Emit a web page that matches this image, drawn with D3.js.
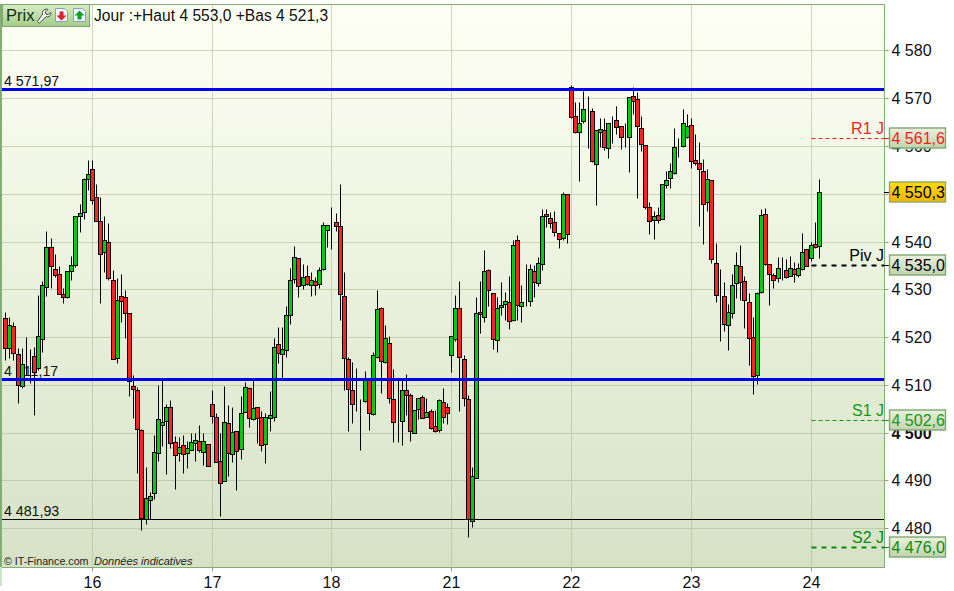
<!DOCTYPE html>
<html><head><meta charset="utf-8">
<script src="https://cdn.jsdelivr.net/npm/d3@7"></script>
<style>
html,body{margin:0;padding:0;background:#fff}
svg{display:block;font-family:"Liberation Sans",Arial,sans-serif}
</style></head><body><svg id="c" width="954" height="591"></svg>
<script>
const highs=[
4525.3,4524.2,4523.2,4517.7,4517.7,4520.0,4517.5,4517.9,4528.8,4531.8,
4542.2,4540.8,4537.4,4534.9,4530.3,4533.8,4537.0,4545.4,4547.9,4553.3,
4557.1,4557.1,4552.1,4549.3,4545.4,4543.9,4534.1,4532.4,4533.2,4529.9,
4525.1,4512.1,4509.6,4500.8,4492.8,4487.6,4499.5,4510.0,4511.0,4506.0,
4506.9,4499.3,4499.1,4499.5,4498.3,4499.9,4499.9,4501.6,4499.9,4497.6,
4508.9,4504.1,4499.9,4509.8,4505.8,4505.4,4500.4,4507.7,4510.6,4509.6,
4511.0,4505.4,4504.5,4504.1,4508.7,4519.8,4522.1,4522.1,4526.5,4534.5,
4539.1,4536.6,4535.3,4535.1,4533.6,4532.6,4534.7,4544.1,4543.5,4547.2,
4546.0,4552.1,4533.6,4515.9,4514.8,4513.5,4507.1,4512.9,4511.2,4516.9,
4529.9,4526.3,4522.5,4520.2,4513.3,4511.0,4511.0,4512.3,4508.3,4504.8,
4507.3,4507.9,4507.3,4505.0,4504.8,4507.1,4509.4,4506.2,4520.2,4528.8,
4531.8,4516.3,4507.9,4492.8,4528.4,4531.8,4538.2,4534.3,4529.2,4528.4,
4531.5,4529.5,4532.8,4540.3,4541.4,4530.9,4535.3,4535.3,4535.1,4536.8,
4546.8,4546.8,4546.2,4546.4,4541.8,4550.4,4550.0,4572.8,4569.2,4569.2,
4571.5,4570.5,4568.0,4563.3,4565.9,4565.9,4564.8,4566.3,4568.4,4564.2,
4564.8,4570.3,4572.3,4571.3,4566.3,4560.2,4548.3,4546.4,4547.2,4552.1,
4554.8,4556.4,4563.8,4561.7,4567.7,4566.7,4565.9,4562.5,4560.8,4557.3,
4555.2,4552.9,4539.7,4534.3,4531.5,4526.9,4533.2,4537.8,4539.3,4532.8,
4529.2,4524.2,4529.5,4546.8,4547.0,4535.3,4533.4,4536.8,4536.8,4536.4,
4537.0,4535.7,4535.5,4541.8,4538.4,4539.9,4544.1,4553.0];
const lows=[
4515.2,4515.6,4515.2,4506.2,4509.4,4512.1,4510.4,4503.7,4513.1,4516.8,
4528.6,4530.3,4532.6,4529.0,4527.1,4528.2,4532.0,4534.7,4542.0,4544.7,
4550.8,4547.9,4544.3,4527.1,4533.6,4532.0,4515.4,4514.6,4523.2,4519.8,
4507.7,4503.1,4491.6,4479.6,4480.9,4482.0,4486.1,4494.1,4497.2,4491.4,
4496.8,4488.2,4494.1,4491.6,4492.6,4496.4,4494.1,4496.0,4493.2,4493.0,
4502.0,4493.9,4482.6,4489.9,4491.0,4493.9,4488.0,4494.5,4504.3,4501.2,
4502.7,4497.9,4496.2,4493.7,4500.4,4502.5,4514.6,4511.5,4515.9,4522.8,
4531.3,4528.4,4530.1,4530.9,4528.6,4528.8,4530.3,4534.1,4538.9,4538.4,
4542.2,4523.6,4508.9,4500.4,4502.0,4504.5,4496.4,4506.4,4500.6,4503.7,
4515.6,4508.3,4514.6,4506.2,4498.1,4498.1,4497.4,4503.7,4498.3,4499.9,
4502.9,4503.1,4503.3,4500.8,4500.2,4500.2,4502.0,4501.8,4512.7,4519.2,
4504.5,4505.6,4478.2,4480.3,4490.5,4520.9,4523.2,4526.5,4517.5,4516.9,
4524.6,4523.6,4521.7,4523.4,4523.6,4523.2,4526.5,4526.5,4528.4,4530.7,
4534.1,4543.1,4542.8,4541.2,4538.7,4540.3,4539.7,4565.9,4562.7,4552.7,
4564.8,4559.6,4556.7,4547.7,4559.8,4559.2,4557.5,4560.6,4562.5,4559.4,
4559.8,4554.6,4566.7,4549.1,4559.0,4546.8,4541.6,4540.5,4543.9,4544.7,
4551.2,4551.2,4554.1,4557.7,4559.8,4561.7,4555.4,4556.0,4543.3,4539.5,
4546.4,4535.5,4527.4,4519.2,4521.3,4517.3,4524.0,4528.2,4527.8,4521.9,
4514.2,4508.1,4510.2,4529.2,4535.1,4526.7,4530.3,4531.5,4532.0,4532.4,
4532.8,4531.5,4532.6,4534.1,4534.9,4535.9,4538.7,4536.6];
const opens=[
4523.9,4517.7,4522.3,4516.5,4509.8,4517.0,4516.3,4516.1,4513.5,4519.6,
4530.5,4538.9,4534.3,4533.2,4529.0,4528.4,4533.8,4535.1,4545.4,4546.2,
4553.1,4555.2,4549.3,4544.3,4537.8,4539.9,4532.0,4515.6,4528.6,4528.4,
4525.1,4509.8,4508.9,4500.6,4482.0,4485.9,4487.4,4495.8,4501.6,4502.5,
4505.4,4498.1,4495.8,4497.4,4495.8,4496.4,4497.9,4498.3,4496.0,4497.6,
4506.0,4503.3,4494.1,4489.9,4502.0,4495.5,4500.4,4496.6,4504.3,4509.4,
4502.9,4505.4,4503.3,4497.6,4503.1,4503.3,4518.6,4516.5,4517.3,4524.6,
4532.2,4536.6,4530.9,4532.8,4530.9,4531.8,4531.1,4534.3,4542.4,4544.5,
4544.1,4543.3,4528.6,4515.4,4508.9,4506.4,4506.4,4506.6,4511.2,4503.9,
4515.9,4526.1,4514.8,4518.8,4507.1,4502.0,4502.5,4508.9,4507.9,4499.9,
4505.0,4507.5,4503.3,4504.5,4501.4,4500.6,4506.4,4505.4,4516.3,4519.6,
4526.1,4515.4,4507.1,4481.5,4490.5,4525.3,4524.2,4534.1,4529.2,4519.4,
4526.3,4526.9,4527.4,4523.6,4540.3,4526.5,4527.6,4527.6,4533.8,4531.3,
4535.3,4545.8,4544.9,4544.1,4541.8,4540.8,4550.0,4572.3,4566.3,4562.9,
4565.2,4567.5,4567.3,4556.2,4562.9,4563.3,4559.6,4565.0,4565.4,4564.2,
4561.3,4561.9,4570.5,4569.8,4563.8,4560.2,4547.2,4544.5,4545.6,4544.7,
4551.8,4553.3,4554.4,4559.6,4560.0,4561.9,4564.4,4557.1,4556.4,4554.8,
4548.3,4552.9,4535.5,4528.4,4528.6,4522.5,4525.1,4531.3,4534.9,4531.8,
4527.4,4520.0,4512.1,4529.5,4545.8,4535.3,4533.0,4532.4,4534.3,4534.1,
4532.8,4534.3,4533.0,4534.3,4538.4,4536.6,4539.5,4539.1];
const closes=[
4517.8,4522.5,4516.7,4510.0,4514.4,4517.0,4516.3,4512.7,4520.2,4530.9,
4538.9,4534.9,4533.0,4529.0,4528.4,4533.8,4535.1,4545.4,4546.0,4553.1,
4554.1,4548.7,4544.3,4537.4,4540.3,4532.4,4515.4,4527.8,4527.6,4525.1,
4510.8,4509.2,4500.8,4482.2,4486.3,4486.8,4496.0,4502.9,4502.3,4505.4,
4497.9,4495.3,4497.0,4495.5,4496.8,4498.1,4498.5,4496.4,4498.3,4493.0,
4503.5,4493.9,4489.5,4502.3,4495.8,4500.2,4496.2,4504.1,4509.6,4503.1,
4505.2,4503.1,4497.4,4503.3,4503.7,4517.9,4516.7,4517.5,4524.6,4532.0,
4536.8,4530.7,4532.6,4531.1,4532.0,4530.9,4534.1,4543.5,4543.5,4544.5,
4543.3,4529.0,4515.6,4509.2,4506.0,4506.4,4506.4,4511.0,4504.1,4516.3,
4525.9,4515.0,4519.8,4507.3,4502.3,4502.0,4508.9,4507.9,4500.4,4504.8,
4507.3,4503.1,4504.3,4501.0,4500.4,4506.9,4503.3,4504.1,4520.2,4526.1,
4515.9,4507.3,4482.0,4491.0,4525.1,4524.9,4533.8,4529.9,4519.6,4526.1,
4526.7,4527.6,4523.4,4539.3,4526.7,4527.4,4527.6,4534.3,4531.5,4535.5,
4545.4,4545.4,4543.9,4542.0,4540.5,4550.0,4541.6,4566.1,4562.9,4564.8,
4567.7,4567.5,4556.9,4563.3,4563.6,4559.8,4564.8,4565.0,4564.0,4561.9,
4561.3,4570.3,4569.4,4564.2,4560.4,4547.2,4544.3,4545.4,4544.5,4552.1,
4552.9,4554.8,4559.8,4559.6,4564.8,4564.2,4556.9,4556.4,4555.2,4547.9,
4553.1,4536.4,4528.8,4528.4,4522.8,4525.3,4530.9,4535.1,4531.5,4527.8,
4519.8,4511.9,4529.2,4545.6,4535.3,4533.2,4532.0,4534.5,4534.3,4532.6,
4534.5,4533.2,4534.5,4537.8,4534.9,4539.3,4538.9,4550.3];

const priceTicks=[4480,4490,4500,4510,4520,4530,4540,4550,4560,4570,4580];
const dayLabels=["16","17","18","21","22","23","24"];
const dayIndex=[21,50,79,108,137,166,195];
const supportLevels=[4571.97,4511.17];
const supportLabels=["4 571,97","4 511,17"];
const lowLevel=4481.93, lowLabel="4 481,93";
const pivotNames=["R1 J","Piv J","S1 J","S2 J"];
const pivotValues=[4561.6,4535.0,4502.6,4476.0];
const pivotColors=["#f51e1e","#000000","#149a14","#0a8a0a"];
const pivotWidths=[1,2,1,2];
const lastPrice=4550.3;
const headline="Jour :+Haut 4 553,0 +Bas 4 521,3";

const tickFmt=v=>{const s=String(v);return s[0]+" "+s.slice(1)};
const priceFmt=v=>{const s=v.toFixed(1).replace(".",",");return s[0]+" "+s.slice(1)};
const L=2,R=884,T=4,B=567;
const svg=d3.select("#c");
const y=d3.scaleLinear().domain([4471.9,4589.7]).range([567,4]);
const x=d3.scaleLinear().domain([0,197]).range([5.7,819.3]);
const px=i=>Math.floor(x(i))+.5;
const py=v=>Math.round(y(v))+.5;

const defs=svg.append("defs");
function grad(id,a,b){const g=defs.append("linearGradient").attr("id",id).attr("x1",0).attr("x2",0).attr("y1",0).attr("y2",1);
 g.append("stop").attr("offset",0).attr("stop-color",a);g.append("stop").attr("offset",1).attr("stop-color",b);}
grad("bg","#feffF4","#d6e2c6");
grad("box","#eaf1de","#c2d2ae");
grad("gold","#ffdc10","#f2b400");
grad("tab","#d8ecc4","#a4cc8a");

svg.append("rect").attr("x",L).attr("y",T).attr("width",R-L).attr("height",B-T).attr("fill","url(#bg)");

// grid
const grid=svg.append("g").attr("stroke","#a9b794").attr("stroke-opacity",.55).attr("stroke-width",1);
grid.selectAll("line.h").data(priceTicks).join("line").attr("class","h")
 .attr("x1",L).attr("x2",R).attr("y1",d=>py(d)).attr("y2",d=>py(d));
grid.selectAll("line.v").data(dayIndex).join("line").attr("class","v")
 .attr("x1",d=>px(d)).attr("x2",d=>px(d)).attr("y1",T).attr("y2",B);

// level labels under candles
const lv=svg.append("g").attr("font-size",14.2).attr("fill","#101010");
lv.selectAll("text").data([[supportLevels[0],supportLabels[0]],[supportLevels[1],supportLabels[1]],[lowLevel,lowLabel]]).join("text")
 .attr("x",4).attr("y",d=>y(d[0])-3).text(d=>d[1]);

// candles
const idx=d3.range(closes.length);
svg.append("g").attr("stroke","#000").attr("stroke-width",1).selectAll("line").data(idx).join("line")
 .attr("x1",px).attr("x2",px).attr("y1",i=>py(highs[i])).attr("y2",i=>py(lows[i]));
svg.append("g").selectAll("rect").data(idx).join("rect")
 .attr("x",i=>px(i)-2).attr("width",4)
 .attr("y",i=>py(Math.max(opens[i],closes[i])))
 .attr("height",i=>Math.max(py(Math.min(opens[i],closes[i]))-py(Math.max(opens[i],closes[i])),0))
 .attr("fill",i=>closes[i]>opens[i]?"#00cc10":"#ff2222")
 .attr("stroke","#000").attr("stroke-width",1);

// horizontal levels
svg.append("g").selectAll("line").data(supportLevels).join("line")
 .attr("x1",L).attr("x2",R).attr("y1",d=>py(d)).attr("y2",d=>py(d))
 .attr("stroke","#0000ee").attr("stroke-width",3);
svg.append("line").attr("x1",L).attr("x2",R).attr("y1",py(lowLevel)).attr("y2",py(lowLevel)).attr("stroke","#000");

// frame
svg.append("rect").attr("x",L-.5).attr("y",T+.5).attr("width",R-L+1).attr("height",B-T).attr("fill","none").attr("stroke","#82ad74");
svg.append("line").attr("x1",1).attr("x2",1).attr("y1",T).attr("y2",B).attr("stroke","#82ad74").attr("stroke-width",2);
svg.append("line").attr("x1",1).attr("x2",1).attr("y1",B).attr("y2",586).attr("stroke","#cfe2c4").attr("stroke-width",2);

// axes
const yAxis=d3.axisRight(y).tickValues(priceTicks).tickSize(4).tickPadding(3).tickFormat(tickFmt);
const ya=svg.append("g").attr("transform",`translate(${R+.5},0)`).call(yAxis);
ya.select(".domain").remove();
ya.selectAll(".tick line").attr("stroke","#82ad74");
ya.selectAll(".tick text").attr("font-size",16).attr("font-family","Liberation Sans").attr("fill","#101010")
 .attr("font-weight",d=>d===4500?"bold":"normal");
ya.selectAll(".tick").attr("transform",d=>`translate(0,${py(d)})`);

const ax=svg.append("g").attr("transform",`translate(0,${B+.5})`);
ax.selectAll("line").data(dayIndex).join("line").attr("x1",d=>px(d)).attr("x2",d=>px(d)).attr("y1",0).attr("y2",4).attr("stroke","#82ad74");
ax.selectAll("text").data(dayIndex).join("text").attr("x",d=>px(d)).attr("y",20)
 .attr("text-anchor","middle").attr("font-size",16).attr("fill","#101010").text((d,i)=>dayLabels[i]);

// pivots
const pv=svg.append("g");
pivotValues.forEach((v,i)=>{
 pv.append("line").attr("x1",px(dayIndex[6])).attr("x2",R).attr("y1",py(v)).attr("y2",py(v))
  .attr("stroke",pivotColors[i]).attr("stroke-width",pivotWidths[i]).attr("stroke-dasharray",pivotWidths[i]==2?"5,5":"4,3");
 pv.append("text").attr("x",R).attr("y",py(v)-4.5).attr("text-anchor","end").attr("font-size",16).attr("fill",pivotColors[i]).text(pivotNames[i]);
 pv.append("line").attr("x1",R).attr("x2",890).attr("y1",py(v)).attr("y2",py(v)).attr("stroke",pivotColors[i]);
 pv.append("rect").attr("x",889.5).attr("y",py(v)-10.5).attr("width",56).attr("height",20).attr("fill","url(#box)").attr("stroke","#7ea86e").attr("stroke-width",1.4);
 pv.append("text").attr("x",891.5).attr("y",py(v)+5.5).attr("font-size",16).attr("fill",pivotColors[i]).text(priceFmt(v));
});
// last price
svg.append("line").attr("x1",R).attr("x2",890).attr("y1",py(lastPrice)).attr("y2",py(lastPrice)).attr("stroke","#000");
svg.append("rect").attr("x",889.5).attr("y",py(lastPrice)-10.5).attr("width",56).attr("height",20).attr("fill","url(#gold)").attr("stroke","#8aa868").attr("stroke-width",1.4);
svg.append("text").attr("x",891.5).attr("y",py(lastPrice)+5.5).attr("font-size",16).attr("fill","#000").text(priceFmt(lastPrice));

// header tab
svg.append("rect").attr("x",2.5).attr("y",4.5).attr("width",87).attr("height",22).attr("fill","url(#tab)").attr("stroke","#7ea86e");
svg.append("text").attr("x",6).attr("y",21).attr("font-size",16.5).attr("fill","#103010").text("Prix");
svg.append("text").attr("x",94).attr("y",21).attr("font-size",15.6).attr("fill","#101010").text(headline);
// wrench
svg.append("path").attr("d","M37.5 21.5l1.8 1.8 6.6-6.6c2.2.6 4.2-.2 4.8-2 .3-.8.2-1.8 0-2.4l-2.6 2.4-2.2-.6-.5-2.2 2.5-2.5c-1.9-.6-4 0-5 1.6-.5 1-.5 2.2-.2 3z")
 .attr("fill","#fff").attr("stroke","#3d4a35").attr("stroke-width",1);
// doc icons
[[55.5,"#e0202c",1],[73.5,"#10a020",0]].forEach(([ix,col,down])=>{
 svg.append("path").attr("d",`M${ix} 8.5h9l3 3v10h-12z`).attr("fill","#f4f6fb").attr("stroke","#8a9ec0");
 const cx=ix+6;
 const a=down?`M${cx-2} 11.5h4v4h3l-5 5-5-5h3z`:`M${cx} 10.5l5 5h-3v4h-4v-4h-3z`;
 svg.append("path").attr("d",a).attr("fill",col);
});

// footer
svg.append("text").attr("x",4).attr("y",565).attr("font-size",10.7).attr("fill","#222").text("© IT-Finance.com");
svg.append("text").attr("x",94).attr("y",565).attr("font-size",11).attr("font-style","italic").attr("fill","#222").text("Données indicatives");
</script></body></html>
